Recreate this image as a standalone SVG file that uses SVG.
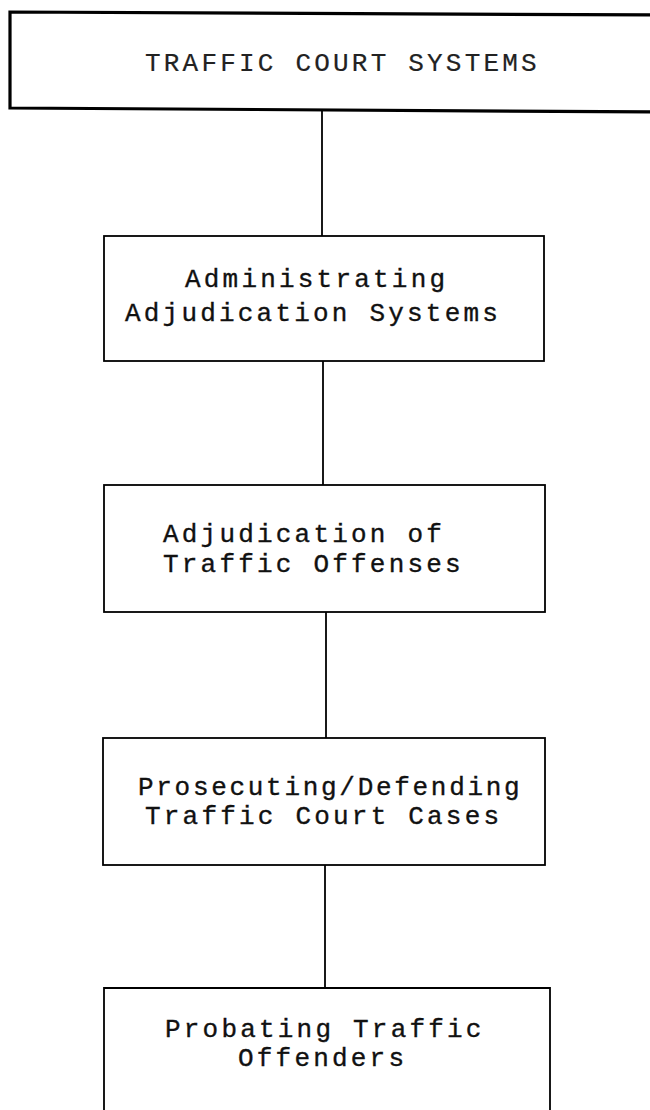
<svg xmlns="http://www.w3.org/2000/svg" width="650" height="1110" viewBox="0 0 650 1110">
<style>
.box{fill:none;stroke:#000;stroke-width:1.8}
.top{fill:none;stroke:#000;stroke-width:3.2}
.con{stroke:#000;stroke-width:1.8;fill:none}
.t{font-family:"Liberation Mono","Courier New",monospace;font-size:26px;letter-spacing:3.2px;fill:#111;stroke:#111;stroke-width:0.35}
.tt{font-family:"Liberation Mono","Courier New",monospace;font-size:26px;letter-spacing:3.2px;fill:#222;stroke:#222;stroke-width:0.2}
</style>
<rect width="650" height="1110" fill="#fff"/>
<g id="connectors">
<line class="con" x1="322" y1="110" x2="322" y2="236"/>
<line class="con" x1="323" y1="361" x2="323" y2="485"/>
<line class="con" x1="326" y1="612" x2="326" y2="738"/>
<line class="con" x1="325" y1="865" x2="325" y2="988"/>
</g>
<g id="n0">
<path class="top" d="M660,15 L10,12 L10,108 L660,112"/>
<text class="tt" x="145" y="71">TRAFFIC COURT SYSTEMS</text>
</g>
<g id="n1">
<rect class="box" x="104" y="236" width="440" height="125"/>
<text class="t" x="185" y="287">Administrating</text>
<text class="t" x="125" y="321">Adjudication Systems</text>
</g>
<g id="n2">
<rect class="box" x="104" y="485" width="441" height="127"/>
<text class="t" x="163" y="542">Adjudication of</text>
<text class="t" x="163" y="572">Traffic Offenses</text>
</g>
<g id="n3">
<rect class="box" x="103" y="738" width="442" height="127"/>
<text class="t" x="138" y="795" style="letter-spacing:2.7px">Prosecuting/Defending</text>
<text class="t" x="145" y="824">Traffic Court Cases</text>
</g>
<g id="n4">
<path class="box" d="M104,1115 L104,988 L550,988 L550,1115"/>
<text class="t" x="165" y="1037">Probating Traffic</text>
<text class="t" x="238" y="1066">Offenders</text>
</g>
</svg>
